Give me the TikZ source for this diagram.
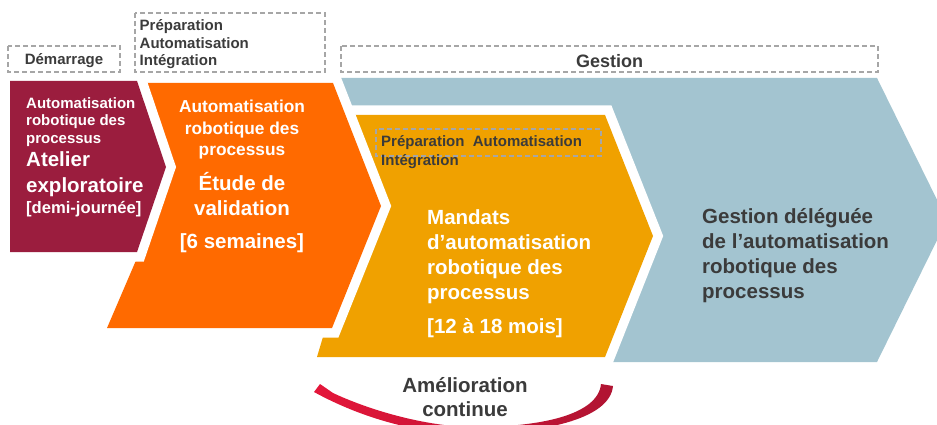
\documentclass[tikz,border=0pt]{standalone}
\usepackage{fontspec}
\setmainfont{Liberation Sans}
\usetikzlibrary{calc}
\definecolor{rpaMaroon}{RGB}{155,29,62}
\definecolor{rpaOrange}{RGB}{255,106,0}
\definecolor{rpaAmber}{RGB}{240,161,0}
\definecolor{rpaBlue}{RGB}{163,196,208}
\definecolor{rpaText}{RGB}{59,59,59}
\definecolor{rpaDash}{RGB}{166,166,166}
\definecolor{rpaRedL}{RGB}{228,22,58}
\definecolor{rpaRedR}{RGB}{176,20,50}
\tikzset{
  gap/.style={preaction={draw=white,line width=19pt,line join=miter}},
  phasebox/.style={draw=rpaDash,line width=1.1pt,dash pattern=on 5pt off 3pt},
  lbl/.style={inner sep=0pt,align=left,text=rpaText,font=\fontsize{15}{17.6}\selectfont\bfseries},
  wsmall/.style={inner sep=0pt,text=white,font=\fontsize{15}{17.5}\selectfont\bfseries},
  wbig/.style={inner sep=0pt,text=white,font=\fontsize{20.5}{25}\selectfont\bfseries}
}

\begin{document}
\begin{tikzpicture}[x=1pt,y=-1pt]
\useasboundingbox (0,0) rectangle (937,425);
\clip (0,0) rectangle (937,425);
% chevrons, back to front
\fill[rpaBlue](330,78)--(877,78)--(947,220)--(877,362)--(500,362)--(330,200)--cycle;
\fill[rpaAmber,gap](330,115)--(605,115)--(653,236)--(605,357)--(317,357)--(362,206)--cycle;
\fill[rpaOrange,gap](140,83)--(333,83)--(381,206)--(332,328)--(107,328)--(176,167)--cycle;
\fill[rpaMaroon,gap](10,81)--(137,81)--(166,167)--(137,252)--(10,252)--cycle;
% phases (multi-line nodes sit on their last baseline)
\draw[phasebox](8,46) rectangle (120,72);
\node[lbl,anchor=base](demarrage) at (64,65){D\'emarrage};
\draw[phasebox](135,13) rectangle (325,72);
\node[lbl,anchor=base west](prep) at (139.5,65.9){Pr\'eparation\\Automatisation\\Int\'egration};
\draw[phasebox](341,46) rectangle (878,72);
\node[lbl,anchor=base,font=\fontsize{18}{20}\selectfont\bfseries](gestion) at (609.5,67.3){Gestion};
\draw[phasebox](376,129) rectangle (601,156);
\node[lbl,anchor=base west,font=\fontsize{15}{18.3}\selectfont\bfseries](prepIn) at (381,165){Pr\'eparation\ \ Automatisation\\Int\'egration};
% atelier
\node[wsmall,align=left,anchor=base west](atelierHead) at (26,143.5){Automatisation\\robotique des\\processus};
\node[wbig,align=left,anchor=base west](atelierTitle) at (26,192){Atelier\\exploratoire};
\node[wsmall,anchor=base west,font=\fontsize{16.6}{20}\selectfont\bfseries](atelierTime) at (26,213){[demi-journ\'ee]};
% etude
\node[wsmall,align=center,anchor=base,font=\fontsize{17.3}{21.5}\selectfont\bfseries](etudeHead) at (242,155.7){Automatisation\\robotique des\\processus};
\node[wbig,align=center,anchor=base](etudeTitle) at (242,215){\'Etude de\\validation};
\node[wbig,anchor=base](etudeTime) at (242,248.3){[6 semaines]};
% mandats
\node[wbig,align=left,anchor=base west,font=\fontsize{20.5}{25.3}\selectfont\bfseries](mandatsTitle) at (427,299.9){Mandats\\d’automatisation\\robotique des\\processus};
\node[wbig,anchor=base west](mandatsTime) at (427,333.3){[12 \`a 18 mois]};
% gestion deleguee
\node[wbig,align=left,anchor=base west,text=rpaText](gestionTitle) at (702,298.3){Gestion d\'el\'egu\'ee\\de l’automatisation\\robotique des\\processus};
% amelioration continue
\shade[left color=rpaRedL,right color=rpaRedR](314,392)--(320,384)--(333,393)
  .. controls (365,408) and (415,424) .. (465,427)
  .. controls (540,428) and (598,415) .. (601,384)--(613,386)
  .. controls (610,420) and (540,434) .. (465,434)
  .. controls (420,433) and (365,420) .. (314,392)--cycle;
\node[wbig,align=center,anchor=base,text=rpaText,font=\fontsize{20.5}{24}\selectfont\bfseries](amelior) at (465,416.7){Am\'elioration\\continue};
\end{tikzpicture}
\end{document}
